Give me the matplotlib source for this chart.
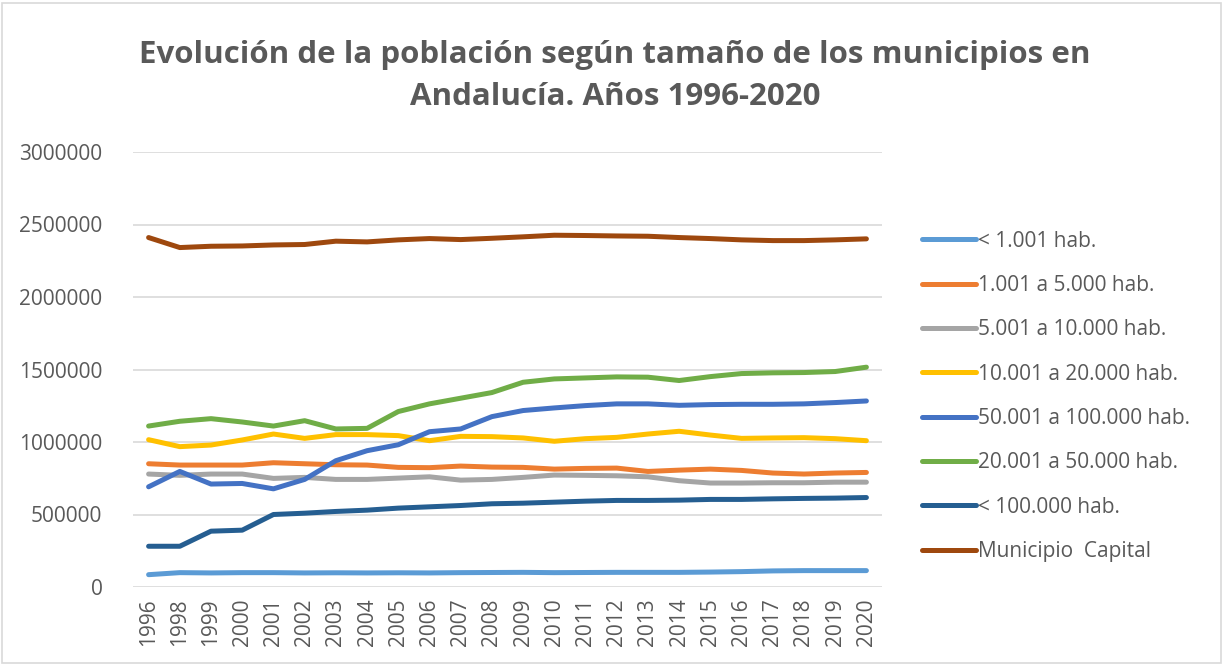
import matplotlib.pyplot as plt

years = ["1996", "1998", "1999", "2000", "2001", "2002", "2003", "2004", "2005",
         "2006", "2007", "2008", "2009", "2010", "2011", "2012", "2013", "2014",
         "2015", "2016", "2017", "2018", "2019", "2020"]

menos_1001 = [85000, 99000, 97000, 99000, 99000, 97000, 98000, 97000, 98000,
              97000, 99000, 100000, 101000, 99000, 100000, 101000, 101000, 101000,
              103000, 106000, 111000, 113000, 113000, 113000]
de_1001_5000 = [850000, 841000, 841000, 841000, 857000, 850000, 843000, 841000, 825000,
                823000, 834000, 827000, 825000, 813000, 818000, 820000, 797000, 806000,
                813000, 804000, 786000, 779000, 786000, 790000]
de_5001_10000 = [779000, 770000, 779000, 779000, 749000, 756000, 742000, 742000, 751000,
                 760000, 737000, 742000, 756000, 772000, 770000, 767000, 760000, 733000,
                 717000, 717000, 719000, 719000, 723000, 723000]
de_10001_20000 = [1016000, 968000, 979000, 1014000, 1055000, 1025000, 1051000, 1051000, 1044000,
                  1009000, 1039000, 1037000, 1028000, 1005000, 1023000, 1032000, 1055000, 1074000,
                  1048000, 1025000, 1028000, 1030000, 1023000, 1009000]
de_50001_100000 = [691000, 797000, 710000, 714000, 677000, 742000, 871000, 940000, 981000,
                   1071000, 1090000, 1175000, 1217000, 1235000, 1251000, 1263000, 1263000, 1253000,
                   1258000, 1260000, 1260000, 1263000, 1272000, 1283000]
de_20001_50000 = [1110000, 1143000, 1161000, 1138000, 1110000, 1147000, 1090000, 1094000, 1210000,
                  1263000, 1302000, 1341000, 1412000, 1435000, 1442000, 1449000, 1447000, 1424000,
                  1451000, 1472000, 1477000, 1479000, 1486000, 1516000]
menos_100000 = [281000, 281000, 385000, 392000, 500000, 509000, 521000, 530000, 544000,
                553000, 562000, 574000, 578000, 585000, 592000, 597000, 597000, 599000,
                604000, 604000, 608000, 611000, 613000, 617000]
capital = [2410000, 2341000, 2350000, 2352000, 2359000, 2362000, 2385000, 2380000, 2394000,
           2403000, 2396000, 2405000, 2415000, 2426000, 2424000, 2421000, 2419000, 2410000,
           2403000, 2394000, 2389000, 2389000, 2394000, 2401000]

series = [
    ("< 1.001 hab.", menos_1001, "#5B9BD5"),
    ("1.001 a 5.000 hab.", de_1001_5000, "#ED7D31"),
    ("5.001 a 10.000 hab.", de_5001_10000, "#A5A5A5"),
    ("10.001 a 20.000 hab.", de_10001_20000, "#FFC000"),
    ("50.001 a 100.000 hab.", de_50001_100000, "#4472C4"),
    ("20.001 a 50.000 hab.", de_20001_50000, "#70AD47"),
    ("< 100.000 hab.", menos_100000, "#255E91"),
    ("Municipio  Capital", capital, "#9E480E"),
]

plt.rcParams['font.family'] = ['Open Sans', 'DejaVu Sans']
txt = "#595959"

fig = plt.figure(figsize=(12.23, 6.64), dpi=100)
ax = fig.add_axes([133/1223, 1 - 587/664, (882-133)/1223, (587-152)/664])

x = list(range(len(years)))
for label, vals, col in series:
    ax.plot(x, vals, color=col, lw=3.6, label=label, solid_capstyle='round')

ax.set_xlim(-0.5, len(years) - 0.5)
ax.set_ylim(0, 3000000)
ax.set_yticks(range(0, 3000001, 500000))
ax.set_yticklabels([str(v) for v in range(0, 3000001, 500000)], fontsize=15, color=txt)
ax.set_xticks(x)
ax.set_xticklabels(years, rotation=90, fontsize=15, color=txt)
ax.tick_params(length=0, pad=8)
ax.tick_params(axis='y', pad=22)
ax.grid(axis='y', color="#D9D9D9", lw=1.2)
ax.set_axisbelow(True)
for s in ax.spines.values():
    s.set_visible(False)

fig.text(0.503, 1 - 76/664, "Evolución de la población según tamaño de los municipios en\nAndalucía. Años 1996-2020",
         ha='center', va='center', fontsize=22.5, fontweight='bold', color=txt, linespacing=1.55)

fig.legend(loc='upper left', bbox_to_anchor=(903/1223, 1 - 212/664), frameon=False,
           fontsize=15, labelcolor=txt, handlelength=2.6, handletextpad=0.1,
           labelspacing=1.12)

fig.patches.append(plt.Rectangle((0.002, 0.002), 0.996, 0.993, transform=fig.transFigure,
                                 fill=False, edgecolor="#D9D9D9", lw=1.2))

fig.savefig("out.png", dpi=100)
